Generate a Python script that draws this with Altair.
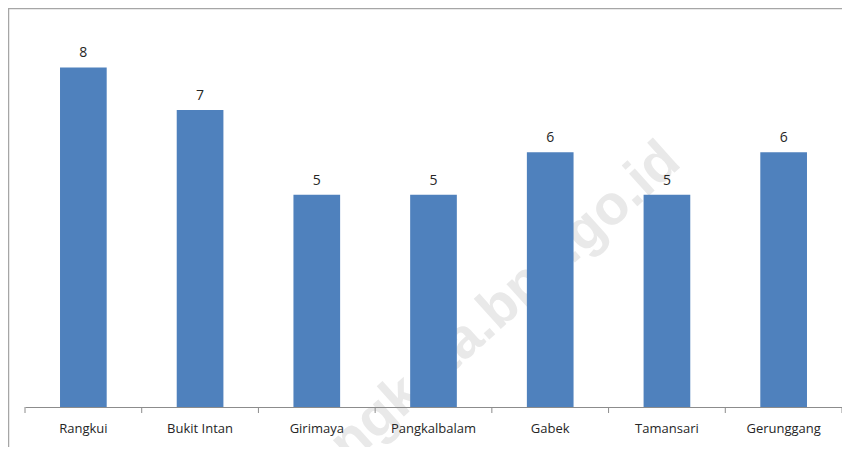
import altair as alt
import pandas as pd

categories = ["Rangkui", "Bukit Intan", "Girimaya", "Pangkalbalam", "Gabek", "Tamansari", "Gerunggang"]
values = [8, 7, 5, 5, 6, 5, 6]
watermark = "pangkalpinangkota.bps.go.id"

df = pd.DataFrame({"cat": categories, "val": values})
last_df = df.tail(1)

W, H = 817, 382
x_enc = alt.X("cat:N", sort=categories, scale=alt.Scale(paddingInner=0, paddingOuter=0),
              axis=alt.Axis(title=None, ticks=False, domainColor="#8c8c8c", domainWidth=1,
                            labelFont="Open Sans", labelFontSize=13, labelColor="#262626",
                            labelPadding=15, labelAngle=0, zindex=1))
y_scale = alt.Scale(domain=[0, 9])

base = alt.Chart(df)

wm = alt.Chart(pd.DataFrame({"t": [watermark]})).mark_text(
    font="Liberation Sans", fontWeight="bold", fontSize=56, color="#e9e9e9",
    angle=318, align="right", baseline="alphabetic"
).encode(x=alt.value(658), y=alt.value(140), text="t:N")

bars = base.mark_bar(color="#4F81BD", width=alt.RelativeBandSize(0.4)).encode(
    x=x_enc,
    y=alt.Y("val:Q", scale=y_scale, axis=None),
)

labels = base.mark_text(font="Open Sans", fontSize=14, color="#262626", dy=-10,
                        baseline="alphabetic").encode(
    x=alt.X("cat:N", sort=categories),
    y=alt.Y("val:Q", scale=y_scale),
    text="val:Q",
)

ticks = base.mark_rule(color="#8c8c8c", strokeWidth=1).encode(
    x=alt.X("cat:N", sort=categories, bandPosition=0),
    y=alt.value(H), y2=alt.value(H + 6),
)
tick_end = alt.Chart(last_df).mark_rule(color="#8c8c8c", strokeWidth=1).encode(
    x=alt.X("cat:N", sort=categories, bandPosition=1),
    y=alt.value(H), y2=alt.value(H + 6),
)

frame_left = alt.Chart(df.head(1)).mark_rule(color="#a6a6a6", strokeWidth=1.5, clip=False).encode(
    x=alt.value(-16.5), y=alt.value(-16.5), y2=alt.value(H + 40),
)
frame_top = alt.Chart(df.head(1)).mark_rule(color="#a6a6a6", strokeWidth=1.5, clip=False).encode(
    x=alt.value(-17), x2=alt.value(W + 20), y=alt.value(-16.5),
)

chart = alt.layer(wm, bars, labels, ticks, tick_end, frame_left, frame_top).resolve_scale(
    x="shared", y="shared"
).properties(
    width=W, height=H,
    autosize=alt.AutoSizeParams(type="none"),
    padding={"left": 17, "top": 17, "right": 0, "bottom": 40},
    background="white",
).configure_view(stroke=None)

chart.save("out.html", embed_options={"renderer": "svg", "actions": False})
